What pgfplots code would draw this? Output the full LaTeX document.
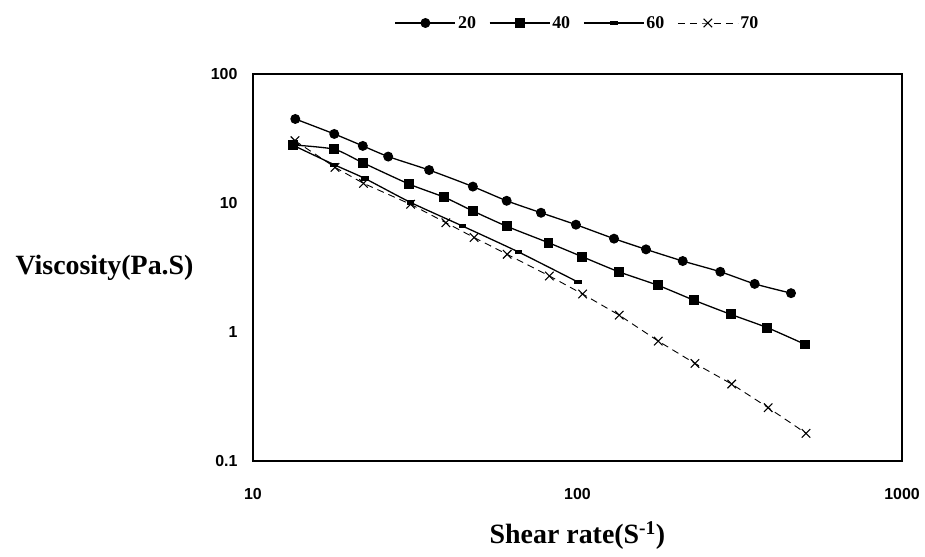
\documentclass[border=0pt]{standalone}
\usepackage{fontspec}
\setmainfont{Liberation Serif}
\setsansfont{Liberation Sans}
\usepackage{pgfplots}
\pgfplotsset{compat=1.18}

\begin{document}
\begin{tikzpicture}
\path[use as bounding box] (-253bp,-96bp) rectangle (672bp,461bp);
\begin{axis}[
    at={(0,0)}, anchor=south west,
    scale only axis,
    width=649bp, height=387bp,
    xmode=log, ymode=log,
    xmin=10, xmax=1000, ymin=0.1, ymax=100,
    xtick={10,100,1000}, xticklabels={10,100,1000},
    ytick={0.1,1,10,100}, yticklabels={0.1,1,10,100},
    minor tick num=0,
    major tick length=0pt, minor tick length=0pt,
    axis line style={line width=2.4bp},
    ticklabel style={font=\sffamily\bfseries\fontsize{16}{16}\selectfont},
    yticklabel style={anchor=east, xshift=-12bp},
    xticklabel style={anchor=north, yshift=-24bp},
    every axis x label/.style={at={(axis description cs:0.5,0)}, anchor=north, yshift=-57bp,
        font=\bfseries\fontsize{28}{28}\selectfont},
    every axis y label/.style={at={(axis description cs:0,0.5)}, anchor=east, xshift=-56bp,
        font=\bfseries\fontsize{28}{28}\selectfont},
    xlabel={Shear rate(S\textsuperscript{-1})},
    ylabel={Viscosity(Pa.S)},
    legend columns=4,
    legend style={draw=none, at={(0.5,1)}, anchor=center, yshift=51bp,
        font=\bfseries\fontsize{18}{18}\selectfont,
        /tikz/every even column/.append style={column sep=11bp}},
    legend image code/.code={\draw[mark repeat=2,mark phase=2,#1] plot coordinates {(0bp,0bp) (30bp,0bp) (60bp,0bp)};},
    every axis plot/.append style={black, line width=1.3bp},
]
\addplot[smooth, tension=0.4, mark=*, mark size=4.3bp] coordinates {
(13.5,44.8) (17.8,34.3) (21.8,27.7) (26.1,22.9) (34.9,18.0) (47.6,13.4)
(60.5,10.4) (77.2,8.4) (98.9,6.79) (129.6,5.29) (162.6,4.37) (211,3.55)
(275.5,2.93) (351.6,2.36) (455,2.0)
};
\addlegendentry{20}
\addplot[smooth, tension=0.4, mark=square*, mark size=4.3bp] coordinates {
(13.25,28.2) (17.8,26.1) (21.8,20.5) (30.3,14.0) (38.9,11.07) (47.6,8.67)
(60.5,6.6) (81.4,4.92) (103.5,3.83) (134,2.93) (177,2.30) (229,1.76)
(296.6,1.37) (384.6,1.08) (503.6,0.80)
};
\addlegendentry{40}
\addplot[smooth, tension=0.4, mark=square*, mark size=3.2bp, mark options={yscale=0.45}] coordinates {
(13.3,28) (17.8,19.8) (22.1,15.5) (30.6,10.1) (44.2,6.63) (65.8,4.17) (100.6,2.43)
};
\addlegendentry{60}
\addplot[line width=0.9bp, dash pattern=on 7bp off 5bp, mark=x, mark size=6bp, mark options={solid, line width=1.1bp}] coordinates {
(13.47,30.4) (17.89,18.9) (21.9,14.2) (30.6,9.77) (39.3,7.04) (48.0,5.40)
(60.7,4.0) (81.9,2.72) (103.7,1.97) (134.5,1.35) (177.4,0.85) (230,0.571)
(298.7,0.395) (387,0.259) (506,0.164)
};
\addlegendentry{70}
\end{axis}
\end{tikzpicture}
\end{document}
